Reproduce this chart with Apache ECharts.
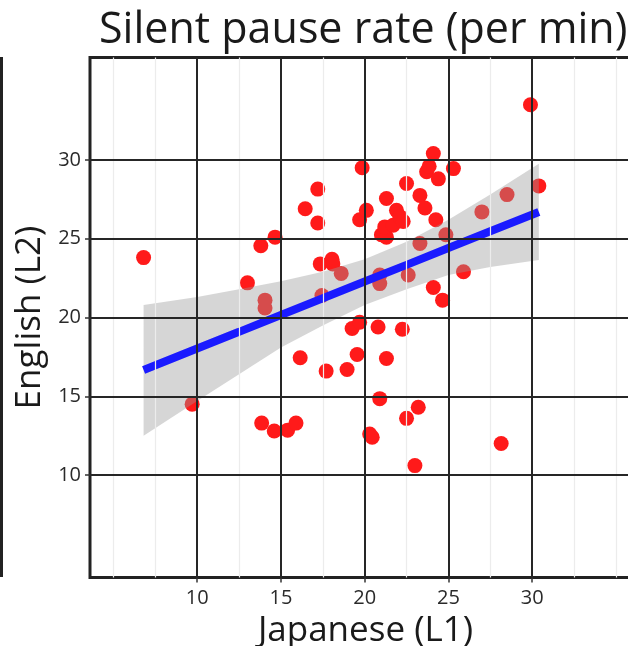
<!DOCTYPE html>
<html>
<head>
<meta charset="utf-8">
<script src="https://cdn.jsdelivr.net/npm/echarts@6/dist/echarts.min.js"></script>
<style>
html,body{margin:0;padding:0;background:#fff;}
#chart{width:628px;height:646px;}
</style>
</head>
<body>
<div id="chart"></div>
<script>
// Japanese (L1) silent pause rate per participant
var japanese = [6.8, 9.7, 13.0, 13.8, 14.65, 14.05, 14.05, 13.85, 14.6, 15.4, 15.9, 16.15, 16.45, 17.2, 17.2, 17.35, 17.45, 17.7, 18.05, 18.1, 18.6, 18.95, 19.25, 19.55, 19.7, 19.7, 19.85, 20.1, 20.8, 20.9, 20.9, 20.9, 20.3, 20.45, 21.0, 21.3, 21.2, 21.7, 21.3, 21.3, 21.9, 22.1, 22.3, 22.25, 22.5, 22.5, 22.6, 23.0, 23.2, 23.3, 23.3, 23.6, 23.7, 23.85, 24.1, 24.4, 24.25, 24.1, 24.65, 24.85, 25.3, 25.9, 27.0, 28.15, 28.5, 29.9, 30.4];
// English (L2) silent pause rate per participant
var english = [23.8, 14.5, 22.2, 24.55, 25.1, 21.1, 20.6, 13.3, 12.8, 12.85, 13.3, 17.45, 26.9, 28.15, 26.0, 23.4, 21.4, 16.6, 23.7, 23.4, 22.8, 16.7, 19.3, 17.65, 19.7, 26.2, 29.5, 26.8, 19.4, 22.7, 22.15, 14.85, 12.6, 12.4, 25.25, 25.1, 25.75, 25.85, 27.55, 17.4, 26.8, 26.4, 26.1, 19.25, 28.5, 13.6, 22.7, 10.6, 14.3, 27.75, 24.7, 26.95, 29.25, 29.6, 30.4, 28.8, 26.2, 21.9, 21.1, 25.25, 29.45, 22.9, 26.7, 12.0, 27.8, 33.5, 28.35];

// Fitted regression line and its confidence band
var fitX    = [6.8, 10, 12.5, 15, 17.5, 20, 22.5, 25, 27.5, 30.4];
var fitY    = [16.67, 18.03, 19.09, 20.16, 21.22, 22.28, 23.34, 24.41, 25.47, 26.70];
var ciLower = [12.5, 14.7, 16.4, 18.1, 19.5, 20.8, 21.8, 22.7, 23.2, 23.65];
var ciUpper = [20.8, 21.3, 21.8, 22.3, 22.9, 23.7, 24.8, 26.2, 27.8, 29.75];

// Axis ticks and grid lines
var xTicks = [10, 15, 20, 25, 30];
var yTicks = [10, 15, 20, 25, 30];
var xMinorGrid = [5, 7.5, 12.5, 17.5, 22.5, 27.5, 32.5, 35];

var points = japanese.map(function (x, i) { return [x, english[i]]; });
var fitLine = fitX.map(function (x, i) { return [x, fitY[i]]; });

var gridLines = [];
xMinorGrid.forEach(function (v) {
  gridLines.push({ xAxis: v, lineStyle: { color: '#ececec', width: 1.2, type: 'solid' } });
});
xTicks.forEach(function (v) {
  gridLines.push({ xAxis: v, lineStyle: { color: '#262626', width: 2, type: 'solid' } });
});
yTicks.forEach(function (v) {
  gridLines.push({ yAxis: v, lineStyle: { color: '#262626', width: 2, type: 'solid' } });
});

var chart = echarts.init(document.getElementById('chart'), null, { renderer: 'canvas' });
var FONT = '"Open Sans", "DejaVu Sans", sans-serif';

chart.setOption({
  animation: false,
  backgroundColor: '#ffffff',
  title: {
    text: 'Silent pause rate (per min)',
    left: 94,
    top: 4,
    textStyle: { fontFamily: FONT, fontSize: 43, fontWeight: 'normal', color: '#1a1a1a' }
  },
  graphic: [{
    type: 'line',
    shape: { x1: 1.5, y1: 57, x2: 1.5, y2: 577 },
    style: { stroke: '#222', lineWidth: 3 },
    silent: true
  }],
  grid: {
    left: 90, top: 57.5, width: 551, height: 520,
    outerBoundsMode: 'none',
    show: true, borderColor: '#222', borderWidth: 3, backgroundColor: 'transparent',
    containLabel: false
  },
  xAxis: {
    type: 'value', min: 3.6, max: 36.5,
    name: 'Japanese (L1)', nameLocation: 'middle', nameGap: 29,
    nameTextStyle: { fontFamily: FONT, fontSize: 35, color: '#1a1a1a' },
    axisLine: { show: false },
    axisTick: { show: true, customValues: xTicks, length: 5, inside: false, lineStyle: { color: '#333', width: 1.5 } },
    axisLabel: { customValues: xTicks, fontFamily: FONT, fontSize: 20, color: '#2a2a2a', margin: 11 },
    splitLine: { show: false }
  },
  yAxis: {
    type: 'value', min: 3.5, max: 36.5,
    name: 'English (L2)', nameLocation: 'middle', nameGap: 28,
    nameTextStyle: { fontFamily: FONT, fontSize: 35, color: '#1a1a1a' },
    axisLine: { show: false },
    axisTick: { show: true, customValues: yTicks, length: 5, inside: false, lineStyle: { color: '#333', width: 1.5 } },
    axisLabel: { customValues: yTicks, fontFamily: FONT, fontSize: 20, color: '#2a2a2a', margin: 9 },
    splitLine: { show: false }
  },
  series: [
    {
      type: 'scatter', data: [], z: 1, silent: true,
      markLine: { silent: true, symbol: ['none', 'none'], label: { show: false }, animation: false, data: gridLines }
    },
    {
      type: 'scatter', data: points, z: 2,
      symbol: 'circle', symbolSize: 15,
      itemStyle: { color: '#ff1a1a', opacity: 1 }
    },
    {
      type: 'custom', z: 3, silent: true,
      data: [[fitX[0], fitY[0]]],
      renderItem: function (params, api) {
        var pts = [];
        for (var i = 0; i < fitX.length; i++) pts.push(api.coord([fitX[i], ciUpper[i]]));
        for (var j = fitX.length - 1; j >= 0; j--) pts.push(api.coord([fitX[j], ciLower[j]]));
        return { type: 'polygon', shape: { points: pts }, style: { fill: 'rgba(153,153,153,0.4)', stroke: null } };
      }
    },
    {
      type: 'line', data: fitLine, z: 4, showSymbol: false, symbol: 'none', silent: true,
      lineStyle: { color: '#1a1aff', width: 8, cap: 'butt' }
    }
  ]
});
</script>
</body>
</html>
